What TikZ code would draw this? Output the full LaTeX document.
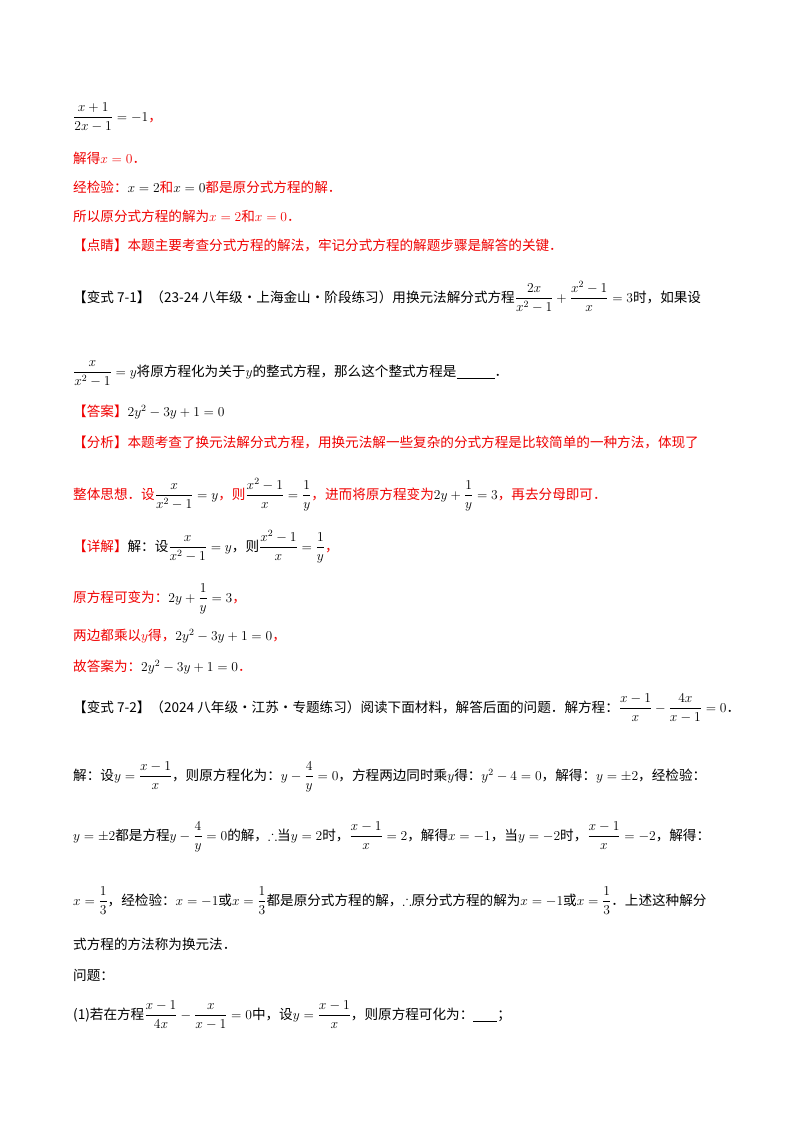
\RequirePackage{fix-cm}
\documentclass[tikz,border=0pt]{standalone}
\usepackage{amsmath,amssymb}
\usepackage{fontspec}
\setmainfont{Noto Sans CJK SC}
\definecolor{ansred}{RGB}{240,0,0}
\begin{document}
\begin{tikzpicture}[x=1pt,y=1pt,
  ln/.style={anchor=base west,inner sep=0pt,font=\fontsize{13.6}{16}\selectfont},
  rd/.style={ln,text=ansred}]
\useasboundingbox (0,0) rectangle (800,-1132);
\fill[white] (0,0) rectangle (800,-1132);
\def\bl{\underline{\hspace{38pt}}}
\node[ln] (l1) at (73,-121) {$\dfrac{x+1}{2x-1}=-1$\textcolor{ansred}{，}};
\node[rd] (l2) at (73,-163) {解得$x=0$．};
\node[rd] (l3) at (73,-192) {经检验：{\color{black}$x=2$}和{\color{black}$x=0$}都是原分式方程的解．};
\node[rd] (l4) at (73,-221) {所以原分式方程的解为$x=2$和$x=0$．};
\node[rd] (l5) at (73,-250) {【点睛】本题主要考查分式方程的解法，牢记分式方程的解题步骤是解答的关键．};
\node[ln] (l6) at (73,-302) {【变式 7-1】（23-24 八年级·上海金山·阶段练习）用换元法解分式方程$\dfrac{2x}{x^2-1}+\dfrac{x^2-1}{x}=3$时，如果设};
\node[ln] (l7) at (73,-376) {$\dfrac{x}{x^2-1}=y$将原方程化为关于$y$的整式方程，那么这个整式方程是\bl．};
\node[rd] (l8) at (73,-416) {【答案】{\color{black}$2y^2-3y+1=0$}};
\node[rd] (l9) at (73,-447) {【分析】本题考查了换元法解分式方程，用换元法解一些复杂的分式方程是比较简单的一种方法，体现了};
\node[rd] (l10) at (73,-499) {整体思想．设{\color{black}$\dfrac{x}{x^2-1}=y$}，则{\color{black}$\dfrac{x^2-1}{x}=\dfrac{1}{y}$}，进而将原方程变为{\color{black}$2y+\dfrac{1}{y}=3$}，再去分母即可．};
\node[rd] (l11) at (73,-551) {【详解】{\color{black}解：设$\dfrac{x}{x^2-1}=y$，则$\dfrac{x^2-1}{x}=\dfrac{1}{y}$}，};
\node[rd] (l12) at (73,-602) {原方程可变为：{\color{black}$2y+\dfrac{1}{y}=3$}，};
\node[rd] (l13) at (73,-640) {两边都乘以$y$得，{\color{black}$2y^2-3y+1=0$}，};
\node[rd] (l14) at (73,-671) {故答案为：{\color{black}$2y^2-3y+1=0$}．};
\node[ln] (l15) at (73,-712) {【变式 7-2】（2024 八年级·江苏·专题练习）阅读下面材料，解答后面的问题．解方程：$\dfrac{x-1}{x}-\dfrac{4x}{x-1}=0$．};
\node[ln] (l16) at (73,-780) {解：设$y=\dfrac{x-1}{x}$，则原方程化为：$y-\dfrac{4}{y}=0$，方程两边同时乘$y$得：$y^2-4=0$，解得：$y=\pm2$，经检验：};
\node[ln] (l17) at (73,-840) {$y=\pm2$都是方程$y-\dfrac{4}{y}=0$的解，$\therefore$当$y=2$时，$\dfrac{x-1}{x}=2$，解得$x=-1$，当$y=-2$时，$\dfrac{x-1}{x}=-2$，解得：};
\node[ln] (l18) at (73,-905) {$x=\dfrac{1}{3}$，经检验：$x=-1$或$x=\dfrac{1}{3}$都是原分式方程的解，$\therefore$原分式方程的解为$x=-1$或$x=\dfrac{1}{3}$．上述这种解分};
\node[ln] (l19) at (73,-949) {式方程的方法称为换元法．};
\node[ln] (l20) at (73,-980) {问题：};
\node[ln] (l21) at (73,-1019) {(1)若在方程$\dfrac{x-1}{4x}-\dfrac{x}{x-1}=0$中，设$y=\dfrac{x-1}{x}$，则原方程可化为：\underline{\hspace{24pt}}；};
\end{tikzpicture}
\end{document}
